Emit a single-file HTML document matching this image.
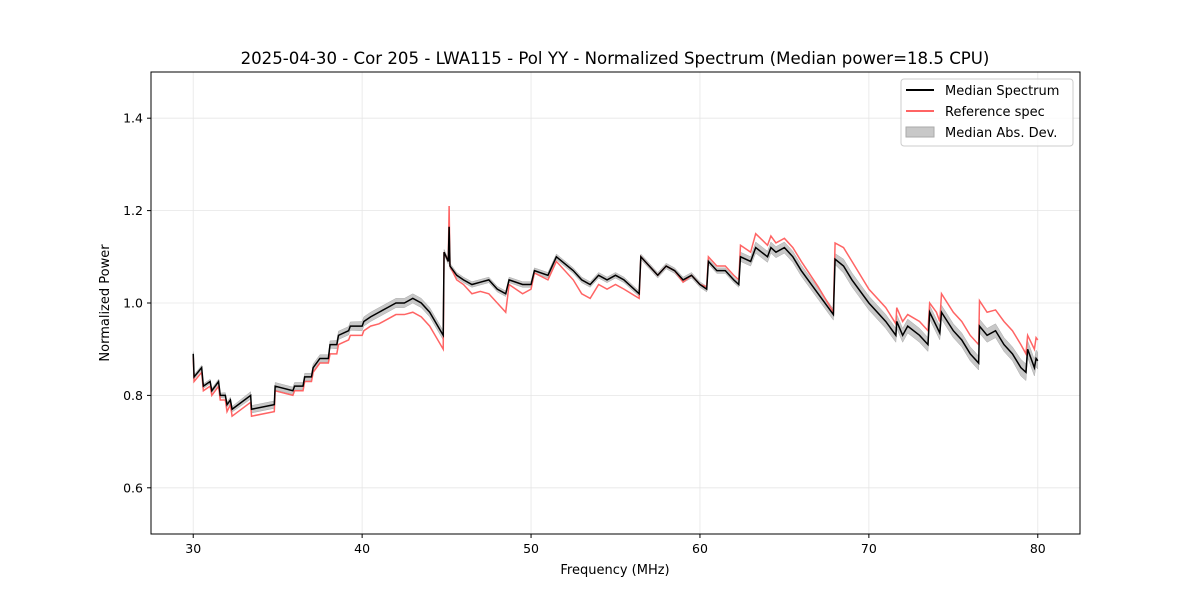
<!DOCTYPE html>
<html><head><meta charset="utf-8"><style>
body{margin:0;background:#fff;font-family:"DejaVu Sans","Liberation Sans",sans-serif;}
svg text{font-family:"DejaVu Sans","Liberation Sans",sans-serif;}
</style></head><body>
<svg id="chart" width="1200" height="600" xmlns="http://www.w3.org/2000/svg">
<rect width="1200" height="600" fill="#fff"/>
<g id="grid"></g>
<g id="series"></g>
<rect x="151" y="72" width="929" height="462" fill="none" stroke="#000" stroke-width="1"/>
<g id="axes"></g>
<text x="615" y="64" font-size="16.6" text-anchor="middle">2025-04-30 - Cor 205 - LWA115 - Pol YY - Normalized Spectrum (Median power=18.5 CPU)</text>
<text x="615" y="574" font-size="13" text-anchor="middle">Frequency (MHz)</text>
<text x="109" y="303" font-size="13" text-anchor="middle" transform="rotate(-90 109 303)">Normalized Power</text>
<g>
<rect x="901" y="79" width="172" height="67" rx="3" fill="#fff" fill-opacity="0.8" stroke="#ccc"/>
<line x1="906" y1="90" x2="934" y2="90" stroke="#000" stroke-width="2"/>
<text x="945" y="95" font-size="13">Median Spectrum</text>
<line x1="906" y1="111" x2="934" y2="111" stroke="#ff6464" stroke-width="2"/>
<text x="945" y="116" font-size="13">Reference spec</text>
<rect x="906" y="127" width="28" height="10" fill="#c8c8c8" stroke="#aaa"/>
<text x="945" y="137" font-size="13">Median Abs. Dev.</text>
</g>
</svg>
<script>
const freqs=[30.0,30.05,30.5,30.6,31.0,31.1,31.5,31.6,31.9,32.0,32.2,32.3,33.4,33.45,34.8,34.85,35.9,36.0,36.5,36.6,37.0,37.1,37.5,38.0,38.1,38.5,38.6,39.2,39.3,40.0,40.1,40.5,41.0,41.5,42.0,42.5,43.0,43.5,44.0,44.8,44.85,45.1,45.15,45.2,45.6,46.0,46.5,47.0,47.5,48.0,48.5,48.7,49.5,50.0,50.2,51.0,51.5,52.5,53.0,53.5,54.0,54.5,55.0,55.5,56.4,56.5,57.0,57.5,58.0,58.5,59.0,59.5,60.0,60.4,60.5,61.0,61.5,62.0,62.3,62.4,63.0,63.3,64.0,64.2,64.5,65.0,65.5,66.0,67.0,67.9,68.0,68.5,69.0,70.0,71.0,71.6,71.65,72.0,72.3,73.0,73.5,73.6,74.0,74.2,74.3,75.0,75.5,76.0,76.5,76.55,77.0,77.5,78.0,78.5,79.0,79.3,79.4,79.8,79.9,80.0];
const median=[0.89,0.84,0.86,0.82,0.83,0.81,0.83,0.80,0.80,0.78,0.79,0.77,0.80,0.77,0.78,0.82,0.81,0.82,0.82,0.84,0.84,0.86,0.88,0.88,0.91,0.91,0.93,0.94,0.95,0.95,0.96,0.97,0.98,0.99,1.00,1.00,1.01,1.00,0.98,0.93,1.11,1.09,1.165,1.08,1.06,1.05,1.04,1.045,1.05,1.03,1.02,1.05,1.04,1.04,1.07,1.06,1.10,1.07,1.05,1.04,1.06,1.05,1.06,1.05,1.02,1.10,1.08,1.06,1.08,1.07,1.05,1.06,1.04,1.03,1.09,1.07,1.07,1.05,1.04,1.10,1.09,1.12,1.10,1.12,1.11,1.12,1.10,1.07,1.02,0.975,1.095,1.08,1.05,1.00,0.96,0.93,0.96,0.93,0.95,0.93,0.91,0.98,0.95,0.935,0.98,0.94,0.92,0.89,0.87,0.95,0.93,0.94,0.91,0.89,0.86,0.85,0.90,0.86,0.88,0.875];
const reference=[0.885,0.83,0.85,0.81,0.82,0.80,0.82,0.79,0.79,0.765,0.78,0.755,0.785,0.755,0.765,0.81,0.80,0.81,0.81,0.83,0.83,0.85,0.87,0.87,0.89,0.89,0.91,0.92,0.93,0.93,0.94,0.95,0.955,0.965,0.975,0.975,0.98,0.97,0.95,0.90,1.11,1.09,1.21,1.08,1.05,1.04,1.02,1.025,1.02,1.00,0.98,1.04,1.02,1.03,1.065,1.05,1.09,1.05,1.02,1.01,1.04,1.03,1.04,1.03,1.01,1.10,1.08,1.06,1.08,1.07,1.045,1.06,1.04,1.035,1.10,1.08,1.08,1.06,1.05,1.125,1.11,1.15,1.125,1.145,1.13,1.14,1.12,1.09,1.035,0.98,1.13,1.12,1.09,1.03,0.99,0.955,0.99,0.96,0.975,0.96,0.94,1.00,0.98,0.96,1.02,0.98,0.96,0.93,0.91,1.005,0.98,0.985,0.96,0.94,0.91,0.89,0.93,0.90,0.925,0.92];
const mad=[0.005,0.005,0.005,0.005,0.005,0.005,0.005,0.005,0.006,0.006,0.006,0.006,0.008,0.008,0.008,0.008,0.008,0.008,0.008,0.008,0.008,0.008,0.008,0.008,0.008,0.009,0.009,0.009,0.009,0.01,0.01,0.01,0.01,0.01,0.01,0.01,0.01,0.01,0.01,0.01,0.006,0.006,0.006,0.006,0.006,0.006,0.006,0.006,0.006,0.006,0.006,0.006,0.006,0.006,0.006,0.006,0.006,0.006,0.006,0.006,0.006,0.006,0.006,0.006,0.006,0.006,0.006,0.006,0.006,0.006,0.006,0.006,0.006,0.006,0.006,0.006,0.006,0.006,0.006,0.01,0.01,0.012,0.012,0.012,0.012,0.012,0.012,0.012,0.012,0.012,0.012,0.015,0.015,0.015,0.015,0.015,0.015,0.015,0.015,0.015,0.015,0.015,0.015,0.015,0.015,0.015,0.015,0.015,0.015,0.015,0.015,0.015,0.015,0.015,0.018,0.018,0.018,0.018,0.018,0.018];
const xTicks=[30,40,50,60,70,80];
const yTicks=[0.6,0.8,1.0,1.2,1.4];
const yTickLabels=["0.6","0.8","1.0","1.2","1.4"];

const NS="http://www.w3.org/2000/svg";
const X0=151,X1=1080,Y0=72,Y1=534,xmin=27.5,xmax=82.5,ymin=0.5,ymax=1.5;
function xs(v){return X0+(v-xmin)/(xmax-xmin)*(X1-X0);}
function ys(v){return Y1-(v-ymin)/(ymax-ymin)*(Y1-Y0);}
function mk(tag,attrs,parent){const e=document.createElementNS(NS,tag);for(const k in attrs)e.setAttribute(k,attrs[k]);parent.appendChild(e);return e;}
const grid=document.getElementById('grid'),axes=document.getElementById('axes'),series=document.getElementById('series');
xTicks.forEach(t=>{const x=xs(t);
mk('line',{x1:x,y1:Y0,x2:x,y2:Y1,stroke:'#e6e6e6','stroke-width':0.8},grid);
mk('line',{x1:x,y1:Y1,x2:x,y2:Y1+4,stroke:'#000'},axes);
const tx=mk('text',{x:x,y:Y1+19,'font-size':12.5,'text-anchor':'middle'},axes);tx.textContent=t;

});
yTicks.forEach((t,i)=>{const y=ys(t);
mk('line',{x1:X0,y1:y,x2:X1,y2:y,stroke:'#e6e6e6','stroke-width':0.8},grid);
mk('line',{x1:X0-4,y1:y,x2:X0,y2:y,stroke:'#000'},axes);
const tx=mk('text',{x:X0-8,y:y+4.5,'font-size':12.5,'text-anchor':'end'},axes);tx.textContent=yTickLabels[i];

});
let up=freqs.map((f,i)=>xs(f)+','+ys(median[i]+mad[i]));
let dn=freqs.map((f,i)=>xs(f)+','+ys(median[i]-mad[i])).reverse();
const band=mk('polygon',{points:up.concat(dn).join(' '),fill:'#c8c8c8',stroke:'#aaa','stroke-width':0.5},series);


const refL=mk('polyline',{points:freqs.map((f,i)=>xs(f)+','+ys(reference[i])).join(' '),fill:'none',stroke:'#ff6464','stroke-width':1.5},series);


const medL=mk('polyline',{points:freqs.map((f,i)=>xs(f)+','+ys(median[i])).join(' '),fill:'none',stroke:'#000','stroke-width':1.5},series);


</script>
</body></html>
